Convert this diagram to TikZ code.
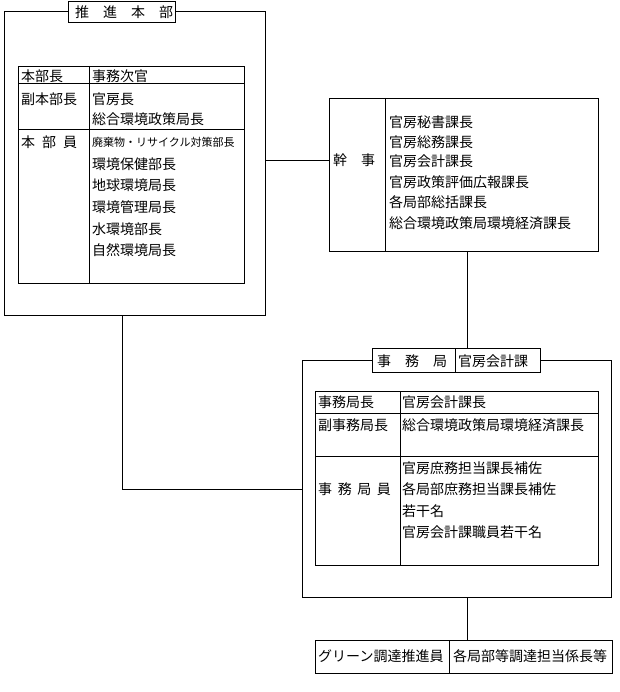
\documentclass[tikz,border=0pt]{standalone}
\usepackage{fontspec}
\setmainfont{Noto Sans CJK JP}
\usetikzlibrary{positioning}

\begin{document}
\begin{tikzpicture}[
    x=1pt, y=-1pt,
    panel/.style={rectangle, draw, line width=0.9pt, inner sep=0pt},
    title/.style={rectangle, draw, fill=white, line width=0.9pt, inner sep=0pt},
    txt/.style={anchor=west, inner sep=0pt, font=\fontsize{14pt}{16pt}\selectfont},
    small/.style={txt, font=\fontsize{11pt}{13pt}\selectfont},
    grid/.style={line width=0.9pt},
    link/.style={line width=0.9pt}
]
\useasboundingbox (0,0) rectangle (619,692);

% Outer frames
\node[panel, minimum width=261, minimum height=304] (suishin) at (134.5,163) {};
\node[panel, minimum width=226, minimum height=217] (stable) at (131,174.5) {};
\node[panel, minimum width=269, minimum height=153] (kanji) at (463.5,174.5) {};
\node[panel, minimum width=309, minimum height=237] (jimu) at (456.5,478.5) {};
\node[panel, minimum width=283, minimum height=174] (jtable) at (456.5,478) {};
\node[panel, minimum width=297, minimum height=33] (green) at (463.5,656.5) {};

% Titles
\node[title, minimum width=107, minimum height=21] (stitle) at (121.5,11.5) {};
\node[txt] (stitleLbl) at (75,12) {推　進　本　部};
\node[title, minimum width=168, minimum height=24] (jtitle) at (456,360) {};
\node[txt] (jtitleLbl) at (377,361) {事　務　局};
\node[txt] (jtitleSub) at (458,361) {官房会計課};

% Table grids
\draw[grid] (18,83) -- (244,83);
\draw[grid] (18,129) -- (244,129);
\draw[grid] (89,66) -- (89,283);
\draw[grid] (385,98) -- (385,251);
\draw[grid] (455,348) -- (455,372);
\draw[grid] (315,413) -- (598,413);
\draw[grid] (315,456) -- (598,456);
\draw[grid] (400,391) -- (400,565);
\draw[grid] (449,640) -- (449,673);

% Headquarters members
\node[txt] (hl1) at (21,76) {本部長};
\node[txt] (hl2) at (21,99) {副本部長};
\node[txt] (hl3) at (21,142) {本\hspace{0.5em}部\hspace{0.5em}員};
\node[txt] (hr1) at (92,76) {事務次官};
\node[small] (hr4) at (92,142) {廃棄物・リサイクル対策部長};
\foreach \ty/\tx [count=\i] in {99/官房長, 119/総合環境政策局長, 164/環境保健部長,
    185/地球環境局長, 207/環境管理局長, 229/水環境部長, 250/自然環境局長}
  \node[txt] (hs\i) at (92,\ty) {\tx};

% Secretaries
\node[txt] (kanjiLbl) at (333,160) {幹　事};
\foreach \ty/\tx [count=\i] in {122/官房秘書課長, 142/官房総務課長, 161/官房会計課長,
    182/官房政策評価広報課長, 202/各局部総括課長, 223/総合環境政策局環境経済課長}
  \node[txt] (ks\i) at (389,\ty) {\tx};

% Secretariat
\node[txt] (jl1) at (318,402) {事務局長};
\node[txt] (jl2) at (318,425) {副事務局長};
\node[txt] (jinLbl) at (318,489) {事\hspace{0.4em}務\hspace{0.4em}局\hspace{0.4em}員};
\node[txt] (jr1) at (402,402) {官房会計課長};
\node[txt] (jr2) at (402,425) {総合環境政策局環境経済課長};
\foreach \ty/\tx [count=\i] in {468/官房庶務担当課長補佐, 489/各局部庶務担当課長補佐,
    511/若干名, 532/官房会計課職員若干名}
  \node[txt] (js\i) at (402,\ty) {\tx};

% Green procurement
\node[txt] (gl) at (318,656) {グリーン調達推進員};
\node[txt] (gr) at (453,656) {各局部等調達担当係長等};

% Connectors
\coordinate (vx) at (467,0);
\coordinate (lx) at (122,0);
\draw[link] (suishin.east |- kanjiLbl) -- (kanji.west |- kanjiLbl);
\draw[link] (kanji.south -| vx) -- (jtitle.north -| vx);
\draw[link] (suishin.south -| lx) |- (jimu.west |- jinLbl);
\draw[link] (jimu.south -| vx) -- (green.north -| vx);

\end{tikzpicture}
\end{document}
